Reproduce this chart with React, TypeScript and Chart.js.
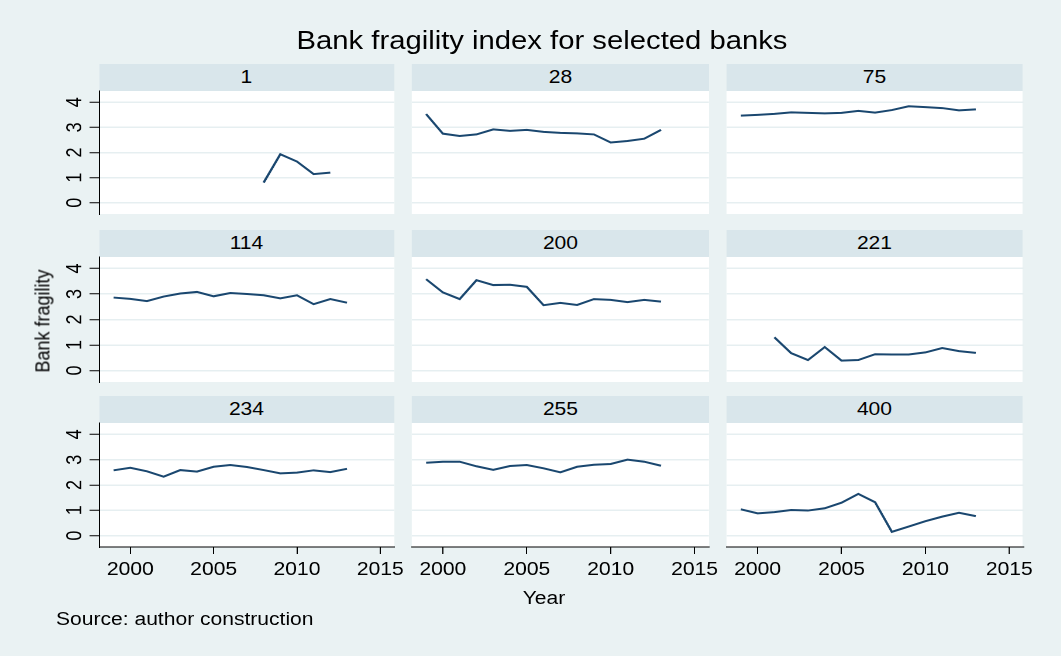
import React, { useEffect, useRef } from "react";
import { Chart, registerables } from "chart.js";

Chart.register(...registerables);

// ---------------- data ----------------
const years = [1999, 2000, 2001, 2002, 2003, 2004, 2005, 2006, 2007, 2008, 2009, 2010, 2011, 2012, 2013];
const xTicks = [2000, 2005, 2010, 2015];
const yTicks = [0, 1, 2, 3, 4];
const bankLabels = ["1", "28", "75", "114", "200", "221", "234", "255", "400"];

const bank1 = [null, null, null, null, null, null, null, null, null, 0.8, 1.93, 1.64, 1.14, 1.2, null];
const bank28 = [3.53, 2.75, 2.66, 2.72, 2.92, 2.86, 2.9, 2.82, 2.78, 2.76, 2.72, 2.4, 2.46, 2.55, 2.9];
const bank75 = [3.47, 3.5, 3.54, 3.6, 3.58, 3.56, 3.58, 3.66, 3.59, 3.69, 3.84, 3.81, 3.77, 3.68, 3.72];
const bank114 = [2.86, 2.81, 2.72, 2.9, 3.02, 3.08, 2.91, 3.04, 3.0, 2.95, 2.83, 2.95, 2.6, 2.8, 2.66];
const bank200 = [3.58, 3.06, 2.8, 3.54, 3.35, 3.36, 3.28, 2.56, 2.65, 2.57, 2.8, 2.77, 2.68, 2.77, 2.7];
const bank221 = [null, null, 1.3, 0.68, 0.41, 0.92, 0.39, 0.41, 0.64, 0.63, 0.63, 0.71, 0.88, 0.76, 0.69];
const bank234 = [2.58, 2.68, 2.54, 2.33, 2.59, 2.53, 2.72, 2.79, 2.71, 2.59, 2.46, 2.49, 2.58, 2.51, 2.64];
const bank255 = [2.88, 2.92, 2.92, 2.74, 2.6, 2.75, 2.79, 2.66, 2.5, 2.72, 2.8, 2.83, 3.0, 2.92, 2.76];
const bank400 = [1.04, 0.88, 0.93, 1.01, 0.99, 1.08, 1.3, 1.65, 1.32, 0.15, 0.36, 0.57, 0.75, 0.9, 0.77];

const series = [bank1, bank28, bank75, bank114, bank200, bank221, bank234, bank255, bank400];

const TITLE = "Bank fragility index for selected banks";
const Y_TITLE = "Bank fragility";
const X_TITLE = "Year";
const NOTE = "Source: author construction";

// ---------------- style / layout ----------------
const S = 1.17; // horizontal stretch of the whole figure
const FONT = "'Liberation Sans', Arial, Helvetica, sans-serif";
const BG = "#EAF2F3";
const STRIP = "#D9E6EB";
const GRID = "#E6EFF1";
const LINE = "#1A476F";

const X_MIN = 1998.15, X_MAX = 2015.85;
const Y_MIN = -0.45, Y_MAX = 4.45;

const colX = [[99, 394], [412, 709], [726, 1023]];
const rowY = [[91, 214], [257, 382], [423, 547]];
const STRIP_H = 27;

const ML = 40, MR = 30, MT = 26, MB = 46;
const WY = 34, HX = 32;

function Panel({ idx }: { idx: number }) {
  const ref = useRef<HTMLCanvasElement | null>(null);
  const r = Math.floor(idx / 3), c = idx % 3;
  const [x0, x1] = colX[c];
  const [y0, y1] = rowY[r];
  const pw = (x1 - x0) / S;
  const ph = y1 - y0;
  const left = x0 / S - ML;
  const top = y0 - MT;
  const cw = Math.ceil(pw + ML + MR);
  const ch = ph + MT + MB;
  const padRight = cw - ML - pw;

  useEffect(() => {
    const showY = c === 0;
    const showX = r === 2;
    const font = { family: FONT, size: 18 };
    const chart = new Chart(ref.current as HTMLCanvasElement, {
      type: "line",
      data: {
        datasets: [
          {
            data: years.map((y, i) => ({ x: y, y: series[idx][i] })) as any,
            borderColor: LINE,
            borderWidth: 2,
            pointRadius: 0,
            fill: false,
            tension: 0,
          },
        ],
      },
      options: {
        animation: false,
        responsive: false,
        devicePixelRatio: 2,
        layout: { padding: { left: ML - WY, right: padRight, top: MT, bottom: MB - HX } },
        plugins: { legend: { display: false }, tooltip: { enabled: false }, title: { display: false } },
        scales: {
          x: {
            type: "linear",
            min: X_MIN,
            max: X_MAX,
            afterBuildTicks: (s: any) => { s.ticks = xTicks.map((v) => ({ value: v })); },
            afterFit: (s: any) => { s.height = HX; },
            grid: {
              display: true,
              drawOnChartArea: false,
              drawTicks: true,
              tickLength: 7,
              tickColor: showX ? "#000" : "transparent",
              tickWidth: 1,
            },
            border: { display: showX, color: "#000", width: 1 },
            ticks: {
              color: showX ? "#000" : "transparent",
              font,
              padding: 5,
              maxRotation: 0,
              minRotation: 0,
              autoSkip: false,
              callback: (v: any) => String(v),
            },
          },
          y: {
            type: "linear",
            min: Y_MIN,
            max: Y_MAX,
            afterBuildTicks: (s: any) => { s.ticks = yTicks.map((v) => ({ value: v })); },
            afterFit: (s: any) => { s.width = WY; },
            grid: {
              display: true,
              color: GRID,
              lineWidth: 1.5,
              drawOnChartArea: true,
              drawTicks: true,
              tickLength: 8.5,
              tickColor: showY ? "#000" : "transparent",
              tickWidth: 1,
            },
            border: { display: showY, color: "#000", width: 1 },
            ticks: {
              color: showY ? "#000" : "transparent",
              font,
              padding: 7,
              minRotation: 90,
              maxRotation: 90,
              crossAlign: "center",
              autoSkip: false,
              callback: (v: any) => String(v),
            },
          },
        },
      } as any,
    });
    return () => chart.destroy();
  }, []);

  return (
    <>
      <div
        style={{
          position: "absolute",
          left: x0 / S,
          top: y0 - STRIP_H,
          width: pw,
          height: STRIP_H,
          background: STRIP,
          textAlign: "center",
          lineHeight: `${STRIP_H}px`,
          fontFamily: FONT,
          fontSize: 18,
          color: "#000",
        }}
      >
        {bankLabels[idx]}
      </div>
      <div
        style={{ position: "absolute", left: x0 / S, top: y0, width: pw, height: ph, background: "#FFFFFF" }}
      />
      <canvas
        ref={ref}
        width={cw}
        height={ch}
        style={{ position: "absolute", left, top, width: cw, height: ch }}
      />
    </>
  );
}

export default function App() {
  const innerW = 1061 / S;
  return (
    <div
      style={{
        position: "fixed",
        left: 0,
        top: 0,
        width: 1061,
        height: 656,
        background: BG,
        overflow: "hidden",
      }}
    >
      <div
        style={{
          position: "absolute",
          left: 0,
          top: 0,
          width: innerW,
          height: 656,
          transform: `scaleX(${S})`,
          transformOrigin: "0 0",
        }}
      >
        <div
          style={{
            position: "absolute",
            left: 542 / S,
            top: 27.8,
            transform: "translateX(-50%)",
            whiteSpace: "nowrap",
            fontFamily: FONT,
            fontSize: 25,
            lineHeight: "25px",
            color: "#000",
          }}
        >
          {TITLE}
        </div>
        {bankLabels.map((_, i) => (
          <Panel key={i} idx={i} />
        ))}
        <div
          style={{
            position: "absolute",
            left: 41.7 / S,
            top: 321,
            transform: "translate(-50%, -50%) rotate(-90deg)",
            whiteSpace: "nowrap",
            fontFamily: FONT,
            fontSize: 18,
            lineHeight: "18px",
            color: "#000",
          }}
        >
          {Y_TITLE}
        </div>
        <div
          style={{
            position: "absolute",
            left: 544 / S,
            top: 589,
            transform: "translateX(-50%)",
            whiteSpace: "nowrap",
            fontFamily: FONT,
            fontSize: 18,
            lineHeight: "18px",
            color: "#000",
          }}
        >
          {X_TITLE}
        </div>
        <div
          style={{
            position: "absolute",
            left: 56 / S,
            top: 610,
            whiteSpace: "nowrap",
            fontFamily: FONT,
            fontSize: 18,
            lineHeight: "18px",
            color: "#000",
          }}
        >
          {NOTE}
        </div>
      </div>
    </div>
  );
}
